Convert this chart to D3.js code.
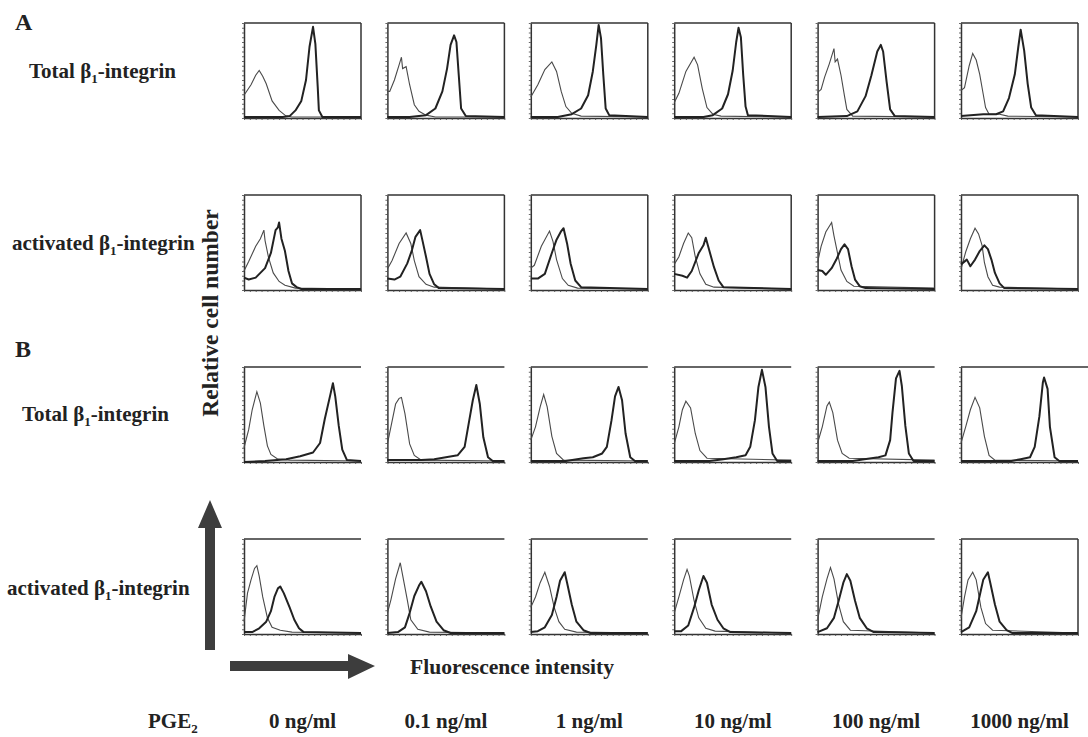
<!DOCTYPE html>
<meta charset="utf-8">
<head>
<script src="https://d3js.org/d3.v7.min.js"></script>
<style>
body { margin:0; background:#fff; }
text { font-family: "Liberation Serif", "Times New Roman", serif; font-weight: bold; fill:#222; }
.ax path { stroke:#333; stroke-width:1.5; fill:none; }
.ax line { stroke:#444; stroke-width:0.8; }
</style>
</head>
<body>
<div id="container"></div>
<script>

// PGE2 doses (columns)
var doses = ["0 ng/ml", "0.1 ng/ml", "1 ng/ml", "10 ng/ml", "100 ng/ml", "1000 ng/ml"];
var rowNames = ["A1", "A2", "B1", "B2"];
var rowPrefix = ["Total", "activated", "Total", "activated"];

// histograms: [fluorescence channel %, relative cell number %]
// thin line = control, thick line = stained
var totalA_control = [
  [[0,24],[6,35],[10,45],[13,50],[16,44],[19,36],[24,18],[30,8],[36,2],[41,1],[100,1]],
  [[0,28],[2,28],[6,40],[10,56],[12,64],[13,52],[16,54],[19,35],[23,14],[27,7],[33,3],[41,1],[100,1]],
  [[0,22],[6,35],[12,51],[18,59],[22,49],[26,28],[30,12],[35,5],[43,2],[100,1]],
  [[0,16],[4,26],[10,49],[17,64],[20,56],[24,31],[28,11],[33,4],[40,2],[100,1]],
  [[0,27],[3,30],[6,43],[10,57],[14,73],[15,59],[17,62],[20,45],[23,23],[25,9],[30,2],[100,1]],
  [[0,29],[3,32],[7,55],[10,68],[13,61],[16,46],[19,25],[21,11],[24,4],[33,4],[40,2],[100,1]]
];
var totalA_stain = [
  [[0,1],[33,1],[39,2],[44,8],[49,18],[53,40],[56,75],[59,96],[61,78],[63,33],[64,8],[67,1],[100,1]],
  [[0,1],[19,1],[33,3],[41,10],[47,28],[51,52],[54,77],[57,87],[59,80],[61,45],[63,10],[67,2],[100,1]],
  [[0,1],[23,1],[35,4],[43,10],[49,24],[53,49],[56,77],[58,98],[60,84],[62,45],[64,10],[67,3],[100,1]],
  [[0,1],[25,1],[33,3],[41,10],[46,25],[50,50],[53,80],[55,95],[57,85],[59,45],[61,12],[63,3],[100,1]],
  [[0,1],[25,2],[34,7],[41,23],[46,45],[51,70],[54,77],[56,70],[59,38],[62,9],[66,2],[100,1]],
  [[0,2],[19,4],[30,4],[36,7],[41,21],[46,46],[49,75],[51,93],[54,71],[57,36],[60,11],[64,3],[100,1]]
];
var activA_control = [
  [[0,20],[4,30],[10,46],[14,54],[17,63],[18,52],[21,34],[25,18],[30,9],[35,5],[44,2],[100,1]],
  [[0,22],[4,31],[10,49],[16,60],[20,49],[23,31],[27,14],[33,6],[40,3],[100,1]],
  [[0,23],[3,26],[9,46],[16,62],[19,51],[22,32],[27,12],[32,5],[40,2],[100,1]],
  [[0,27],[4,35],[8,49],[12,60],[15,55],[18,35],[22,17],[27,6],[34,3],[100,1]],
  [[0,29],[3,46],[7,61],[12,71],[14,57],[17,39],[20,21],[25,9],[31,4],[100,2]],
  [[0,22],[4,40],[8,54],[12,65],[15,59],[18,47],[20,29],[23,14],[27,5],[33,3],[100,1]]
];
var activA_stain = [
  [[0,13],[4,11],[10,13],[18,23],[23,39],[27,63],[29,66],[30,71],[32,54],[35,41],[38,20],[41,7],[45,3],[49,1],[100,1]],
  [[0,12],[6,11],[11,14],[17,28],[21,42],[24,56],[28,63],[30,52],[33,35],[36,17],[40,6],[44,2],[100,1]],
  [[0,12],[6,12],[12,17],[18,39],[22,53],[26,62],[28,65],[31,49],[34,28],[38,10],[43,3],[100,1]],
  [[0,17],[7,15],[11,13],[15,20],[21,39],[25,47],[27,55],[29,46],[34,24],[38,10],[42,3],[100,1]],
  [[0,21],[4,20],[7,16],[12,23],[16,32],[20,43],[23,48],[26,43],[29,25],[32,11],[36,4],[41,2],[100,1]],
  [[0,27],[5,32],[8,25],[12,32],[16,41],[20,47],[23,43],[26,32],[29,18],[33,7],[37,2],[100,1]]
];
var totalB_control = [
  [[0,15],[4,34],[7,55],[11,74],[14,62],[17,38],[20,17],[23,8],[29,3],[39,2],[100,1]],
  [[0,19],[3,37],[7,61],[10,67],[12,68],[15,51],[19,19],[23,7],[29,2],[100,1]],
  [[0,23],[4,37],[8,58],[11,71],[14,58],[18,27],[22,9],[28,2],[100,1]],
  [[0,19],[4,37],[7,55],[10,64],[14,57],[18,30],[22,12],[28,4],[100,2]],
  [[0,20],[4,37],[8,59],[10,63],[13,52],[17,23],[21,9],[27,4],[100,2]],
  [[0,20],[4,37],[8,55],[12,68],[16,57],[20,27],[24,7],[29,2],[100,1]]
];
var totalB_stain = [
  [[0,0],[18,1],[36,3],[48,6],[59,10],[65,20],[69,45],[74,72],[76,83],[78,69],[81,38],[84,13],[88,2],[100,1]],
  [[0,2],[29,2],[40,3],[50,5],[60,7],[66,16],[70,44],[73,65],[76,81],[79,61],[82,26],[86,5],[90,1],[100,1]],
  [[0,1],[30,1],[45,4],[53,5],[61,9],[65,16],[69,44],[72,69],[75,79],[78,65],[81,30],[85,5],[89,1],[100,1]],
  [[0,1],[30,1],[42,3],[53,5],[61,7],[65,16],[69,44],[72,79],[75,97],[78,79],[81,37],[84,9],[88,1],[100,1]],
  [[0,1],[30,1],[40,3],[52,5],[58,7],[62,23],[64,52],[67,88],[70,96],[72,80],[75,38],[78,9],[82,1],[100,1]],
  [[0,1],[30,1],[43,1],[51,3],[59,5],[63,16],[67,48],[70,84],[71,89],[74,77],[76,37],[80,5],[84,1],[100,1]]
];
var activB_control = [
  [[0,13],[3,43],[6,57],[9,69],[11,72],[13,61],[16,39],[20,17],[24,7],[31,4],[41,2],[100,1]],
  [[0,22],[3,36],[7,58],[11,75],[13,62],[17,36],[20,15],[26,5],[36,2],[100,1]],
  [[0,28],[4,39],[8,54],[12,65],[16,50],[20,28],[24,13],[29,5],[39,2],[100,1]],
  [[0,22],[4,39],[8,57],[11,68],[13,61],[17,35],[21,17],[27,6],[35,3],[100,1]],
  [[0,15],[4,39],[8,58],[11,70],[14,58],[18,31],[22,13],[28,4],[100,1]],
  [[0,17],[3,39],[6,57],[10,65],[13,57],[17,28],[21,11],[27,4],[100,1]]
];
var activB_stain = [
  [[0,2],[7,2],[13,6],[19,13],[23,24],[26,39],[29,48],[31,50],[34,43],[39,28],[43,15],[47,6],[51,2],[100,1]],
  [[0,1],[9,2],[15,7],[19,22],[23,40],[27,51],[29,55],[33,45],[37,29],[42,13],[48,4],[54,1],[100,1]],
  [[0,2],[6,3],[12,7],[18,20],[22,39],[25,56],[29,65],[31,54],[35,31],[39,13],[45,4],[51,1],[100,1]],
  [[0,3],[6,3],[12,9],[17,28],[21,46],[25,61],[28,54],[32,31],[37,15],[42,6],[48,2],[100,1]],
  [[0,2],[8,6],[14,17],[18,35],[22,54],[25,63],[28,56],[32,35],[36,17],[42,6],[48,2],[100,1]],
  [[0,2],[7,7],[13,24],[17,46],[19,57],[23,65],[25,54],[29,31],[33,13],[39,4],[44,1],[100,1]]
];

var series = {
  A1: [totalA_control, totalA_stain],
  A2: [activA_control, activA_stain],
  B1: [totalB_control, totalB_stain],
  B2: [activB_control, activB_stain]
};

var width = 1088, height = 737;
var svg = d3.select('#container').append('svg')
  .attr('width', width)
  .attr('height', height);

var pw = 117, ph = 95;
var colX = d3.scalePoint().domain(doses).range([244, 961]);
var rowY = d3.scalePoint().domain(rowNames).range([23, 539]);
var x = d3.scaleLinear().domain([0, 100]).range([0, pw]);
var y = d3.scaleLinear().domain([0, 100]).range([ph, 0]);
var line = d3.line().x(function(d){ return x(d[0]); }).y(function(d){ return y(d[1]); });

rowNames.forEach(function(r) {
  doses.forEach(function(dose, ci) {
    var g = svg.append('g').attr('transform', 'translate(' + colX(dose) + ',' + rowY(r) + ')');

    g.append('g').attr('class', 'ax')
      .attr('transform', 'translate(0,' + ph + ')')
      .call(d3.axisBottom(x).ticks(25).tickSize(2).tickSizeOuter(0).tickFormat(''));
    g.append('g').attr('class', 'ax')
      .call(d3.axisLeft(y).ticks(25).tickSize(2).tickSizeOuter(0).tickFormat(''));

    // top border, and right border on the A boxes
    var right = (r[0] == 'A') || (r == 'B2' && ci == 5);
    var topW = (r == 'B1' && ci == 5) ? width - colX(dose) : pw;
    g.append('line').attr('x1', 0).attr('x2', topW).attr('y1', 0).attr('y2', 0)
      .attr('stroke', '#333').attr('stroke-width', 1.5);
    if (right)
      g.append('line').attr('x1', pw).attr('x2', pw).attr('y1', 0).attr('y2', ph)
        .attr('stroke', '#333').attr('stroke-width', 1.5);

    g.append('path').datum(series[r][0][ci])
      .attr('d', line).attr('fill', 'none')
      .attr('stroke', '#4a4a4a').attr('stroke-width', 1.1);
    g.append('path').datum(series[r][1][ci])
      .attr('d', line).attr('fill', 'none')
      .attr('stroke', '#222').attr('stroke-width', 2)
      .attr('stroke-linejoin', 'round');
  });
});

// row labels
var fs = 21;
function integrinLabel(px, py, prefix) {
  var t = svg.append('text').attr('x', px).attr('y', py).attr('font-size', fs);
  t.append('tspan').text(prefix + ' β');
  t.append('tspan').attr('dy', 5).attr('font-size', 13).text('1');
  t.append('tspan').attr('dy', -5).text('-integrin');
}
var labelX = [29, 12, 22, 7];
var labelY = [78, 250, 421, 595];
rowNames.forEach(function(r, i) { integrinLabel(labelX[i], labelY[i], rowPrefix[i]); });

svg.append('text').attr('x', 15).attr('y', 30).attr('font-size', 24).text('A');
svg.append('text').attr('x', 15).attr('y', 357).attr('font-size', 24).text('B');

svg.append('text')
  .attr('transform', 'translate(218,313) rotate(-90)')
  .attr('text-anchor', 'middle').attr('font-size', 23.5)
  .text('Relative cell number');

svg.append('text').attr('x', 410).attr('y', 674).attr('font-size', 21.6).text('Fluorescence intensity');

// arrows
svg.append('path')
  .attr('d', 'M205,650 L205,528 L198,528 L210,500 L222,528 L215,528 L215,650 Z')
  .attr('fill', '#3d3d3d');
svg.append('path')
  .attr('d', 'M230,661 L348,661 L348,654 L375,666 L348,679 L348,671 L230,671 Z')
  .attr('fill', '#3d3d3d');

// dose labels
var pge = svg.append('text').attr('x', 148).attr('y', 728).attr('font-size', fs);
pge.append('tspan').text('PGE');
pge.append('tspan').attr('dy', 5).attr('font-size', 13).text('2');

svg.selectAll('.dose').data(doses).enter().append('text')
  .attr('class', 'dose')
  .attr('x', function(d){ return colX(d) + pw / 2; })
  .attr('y', 728)
  .attr('text-anchor', 'middle')
  .attr('font-size', fs)
  .text(function(d){ return d; });

</script>
</body>
